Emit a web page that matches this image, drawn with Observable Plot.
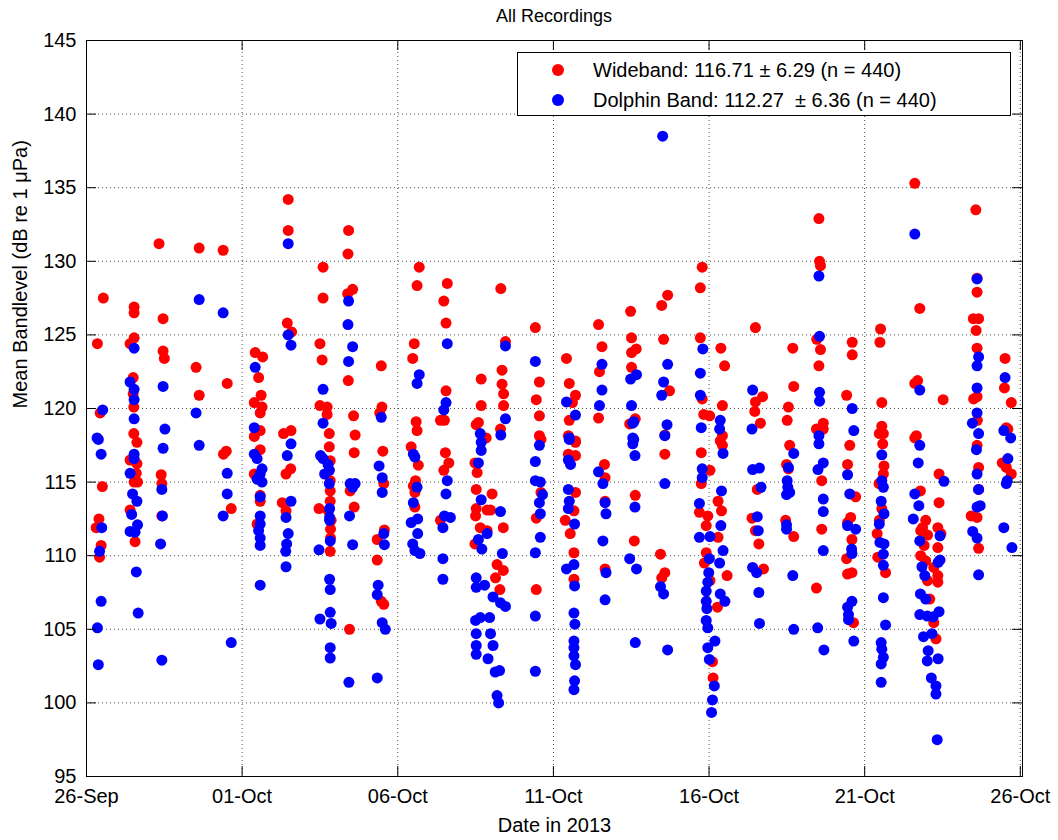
<!DOCTYPE html>
<html>
<head>
<meta charset="utf-8">
<script src="https://cdn.jsdelivr.net/npm/d3@7"></script>
<script src="https://cdn.jsdelivr.net/npm/@observablehq/plot@0.6"></script>
<style>
  body { margin: 0; background: #fff; font-family: "Liberation Sans", Arial, Helvetica, sans-serif; }
  #wrap { position: relative; width: 1058px; height: 840px; }
  #title { position: absolute; top: 6px; left: 86px; width: 936px; text-align: center; font-size: 18px; color: #000; }
  #legend { position: absolute; left: 517px; top: 52px; width: 494px; height: 64px; border: 1px solid #000; background: #fff; box-sizing: border-box; }
  .lrow { position: absolute; left: 0; height: 30px; line-height: 30px; font-size: 20px; white-space: pre; color: #000; }
  .lmark { position: absolute; left: 34px; top: 9px; width: 12px; height: 12px; border-radius: 50%; }
  .ltext { position: absolute; left: 75px; top: 0; }
</style>
</head>
<body>
<div id="wrap">
  <div id="chart"></div>
  <div id="title"></div>
  <div id="legend"></div>
</div>
<script>
// ---- data (day offset from 26-Sep-2013 00:00, mean bandlevel dB) ----
const wideband = [
[0.54,127.5],[0.35,124.4],[0.44,119.7],[0.51,114.7],[0.40,112.5],[0.31,111.9],[0.47,110.7],[0.42,109.9],
[1.53,126.9],[1.53,126.5],[1.53,124.8],[1.40,124.4],[1.50,122.1],[1.50,121.0],[1.52,120.1],[1.52,118.3],[1.62,117.7],[1.40,116.5],[1.62,116.25],[1.60,115.6],[1.53,115.0],[1.64,115.0],[1.40,113.1],[1.56,110.95],
[2.33,131.2],[2.46,126.1],[2.46,123.9],[2.50,123.4],[2.40,115.5],[2.42,114.9],[2.42,112.7],
[3.62,130.9],[3.52,122.8],[3.62,120.9],
[4.39,130.75],[4.52,121.7],[4.40,116.9],[4.49,117.1],[4.65,113.2],
[5.42,123.8],[5.66,123.5],[5.53,122.1],[5.61,120.9],[5.39,120.4],[5.64,120.1],[5.58,119.7],[5.58,118.5],[5.39,118.1],[5.58,117.2],[5.39,115.55],[5.58,114.1],[5.58,113.7],[5.48,112.15],
[6.48,134.2],[6.48,132.1],[6.45,125.8],[6.59,125.2],[6.33,118.3],[6.57,118.5],[6.56,115.9],[6.41,115.55],[6.29,113.6],[6.41,113.05],
[7.60,129.6],[7.60,127.5],[7.50,124.4],[7.57,123.3],[7.50,120.2],[7.73,120.1],[7.73,119.6],[7.80,118.3],[7.80,117.4],[7.83,116.45],[7.80,115.8],[7.83,115.1],[7.83,114.4],[7.83,113.7],[7.77,113.05],[7.86,112.4],[7.84,111.8],[7.84,111.2],[7.83,110.3],[7.47,113.2],
[8.42,132.1],[8.40,130.5],[8.55,128.1],[8.39,127.8],[8.41,121.9],[8.58,119.5],[8.63,118.2],[8.60,117.0],[8.47,114.4],[8.60,113.3],[8.45,105.0],
[9.47,122.9],[9.49,120.1],[9.42,119.7],[9.52,117.1],[9.55,114.9],[9.57,111.75],[9.34,111.1],[9.34,109.7],[9.55,106.7],[9.47,106.9],
[10.69,129.6],[10.62,128.35],[10.53,124.4],[10.48,123.4],[10.59,119.1],[10.62,118.5],[10.43,117.4],[10.66,116.15],[10.50,114.75],[10.57,115.1],[10.55,114.3],[10.55,113.3],
[11.59,128.5],[11.48,127.3],[11.55,125.8],[11.55,121.2],[11.37,119.2],[11.50,119.2],[11.53,117.0],[11.64,116.3],[11.48,115.8],[11.37,112.4],
[12.68,122.0],[12.68,120.2],[12.59,119.05],[12.84,118.0],[12.52,118.9],[12.48,116.3],[12.55,115.65],[12.52,114.5],[13.03,114.2],[12.52,113.2],[12.50,112.7],[12.98,113.1],[12.87,113.1],[12.65,111.9],[12.87,111.7],[13.39,111.9],[12.48,110.8],[13.19,109.4],[13.39,109.0],[13.14,108.5],[13.28,107.7],[13.31,128.15],[13.46,124.55],[13.35,122.6],[13.35,121.65],[13.40,121.0],[13.40,120.2],[13.30,118.6],
[14.42,125.5],[14.55,121.8],[14.45,120.6],[14.55,119.5],[14.55,118.15],[14.60,117.9],[14.60,114.3],[14.45,112.55],[14.45,107.7],
[15.42,123.4],[15.51,121.7],[15.71,120.9],[15.61,120.4],[15.51,119.2],[15.48,118.15],[15.71,117.8],[15.71,117.7],[15.48,116.9],[15.71,116.8],[15.71,114.3],[15.66,113.05],[15.38,112.4],[15.54,111.5],[15.66,110.2],[15.66,108.4],
[16.45,125.7],[16.56,124.2],[16.48,122.5],[16.45,119.35],[16.64,116.2],[16.66,115.3],[16.66,113.7],[16.66,109.1],
[17.48,126.6],[17.51,124.8],[17.51,123.8],[17.66,124.05],[17.51,122.8],[17.63,119.3],[17.45,118.95],[17.63,114.1],[17.60,111.0],
[18.67,127.7],[18.48,127.0],[18.54,124.7],[18.73,121.2],[18.58,118.2],[18.58,116.9],[18.44,110.1],[18.58,108.85],[18.48,108.5],
[19.78,129.6],[19.72,128.2],[19.72,124.8],[19.78,120.65],[19.83,119.6],[20.02,119.5],[19.75,117.0],[20.03,115.8],[19.75,114.9],[19.69,112.95],[19.96,112.7],[19.91,112.05],[19.91,110.2],[19.85,109.5],[20.03,108.3],[20.11,102.8],[20.13,101.7],
[20.38,124.1],[20.50,122.9],[20.43,120.2],[20.43,118.15],[20.36,117.8],[20.43,117.5],[20.29,113.7],[20.40,113.05],[20.29,111.25],[20.58,108.65],[20.27,106.5],
[21.49,125.5],[21.72,120.8],[21.49,120.45],[21.47,119.8],[21.65,119.0],[21.55,114.5],[21.38,112.55],[21.49,111.7],[21.60,110.8],[21.75,109.1],
[22.69,124.1],[22.72,121.5],[22.55,120.1],[22.51,119.2],[22.59,117.5],[22.49,116.2],[22.55,115.9],[22.46,112.4],[22.72,111.3],
[23.53,132.9],[23.55,130.0],[23.58,129.7],[23.46,124.7],[23.58,124.0],[23.53,122.9],[23.67,119.0],[23.45,118.6],[23.67,118.6],[23.62,115.1],[23.62,111.8],[23.45,107.8],
[24.60,124.5],[24.60,123.65],[24.42,120.9],[24.52,117.5],[24.45,116.2],[24.71,114.0],[24.55,112.6],[24.45,112.25],[24.59,111.1],[24.42,109.8],[24.45,108.75],[24.59,108.85],[24.64,105.45],
[25.51,125.4],[25.49,124.5],[25.55,120.4],[25.55,118.8],[25.47,118.3],[25.60,118.3],[25.58,117.6],[25.62,116.1],[25.60,115.55],[25.51,114.9],[25.46,114.9],[25.55,113.2],[25.47,112.4],[25.40,111.5],[25.42,109.9],[25.67,108.85],
[26.61,135.3],[26.77,126.8],[26.70,121.9],[26.61,121.7],[26.66,118.15],[26.61,118.0],[26.79,114.4],[26.96,112.4],[26.86,111.9],[26.80,111.7],[27.02,111.4],[27.35,111.9],[27.45,111.5],[27.35,110.55],[27.39,115.55],[27.39,113.6],[26.91,110.7],[26.80,110.0],[26.96,109.65],[27.22,109.2],[27.35,108.65],[27.35,108.2],[27.02,108.3],[27.09,107.05],[27.22,105.45],[27.29,104.35],[27.52,120.6],
[28.57,133.5],[28.61,128.85],[28.61,127.9],[28.49,126.1],[28.66,126.1],[28.58,125.3],[28.61,124.1],[28.61,120.8],[28.50,120.65],[28.62,119.2],[28.61,117.5],[28.66,116.0],[28.66,114.5],[28.42,112.7],[28.61,112.6],[28.66,110.5],
[29.51,123.4],[29.49,121.4],[29.71,120.4],[29.60,118.6],[29.55,118.7],[29.42,116.3],[29.55,116.0],[29.71,115.55]
];
const dolphin = [
[0.52,119.9],[0.34,118.0],[0.38,117.9],[0.47,116.9],[0.49,111.9],[0.42,110.3],[0.47,106.9],[0.35,105.1],[0.38,102.6],
[1.53,124.1],[1.40,121.8],[1.53,121.3],[1.53,120.6],[1.53,119.3],[1.53,116.9],[1.53,116.6],[1.40,115.6],[1.48,114.2],[1.62,113.7],[1.45,112.8],[1.64,112.1],[1.40,111.65],[1.56,111.6],[1.60,108.9],[1.66,106.1],
[2.46,121.5],[2.52,118.6],[2.46,117.3],[2.42,114.5],[2.44,112.7],[2.38,110.8],[2.42,102.9],
[3.62,127.4],[3.52,119.7],[3.62,117.5],
[4.39,126.5],[4.52,115.6],[4.52,114.2],[4.39,112.7],[4.65,104.1],
[5.42,122.8],[5.39,118.7],[5.39,116.9],[5.48,116.6],[5.64,115.9],[5.58,115.55],[5.64,115.0],[5.48,115.2],[5.58,114.0],[5.58,112.7],[5.58,112.15],[5.53,111.7],[5.58,111.2],[5.58,110.7],[5.58,108.0],
[6.48,131.2],[6.48,125.0],[6.57,124.3],[6.57,117.6],[6.45,116.8],[6.57,113.7],[6.41,112.6],[6.48,111.5],[6.43,110.8],[6.40,110.3],[6.41,109.25],
[7.60,121.3],[7.60,119.0],[7.52,116.8],[7.60,116.6],[7.76,116.2],[7.80,115.8],[7.65,115.55],[7.80,114.9],[7.81,113.2],[7.81,112.6],[7.81,112.4],[7.83,111.0],[7.47,110.4],[7.81,108.4],[7.83,107.7],[7.83,106.15],[7.50,105.7],[7.86,105.4],[7.83,103.75],[7.83,103.05],
[8.42,127.3],[8.40,125.7],[8.55,124.2],[8.42,123.2],[8.47,114.9],[8.63,114.9],[8.55,114.65],[8.45,112.7],[8.55,110.75],[8.43,101.4],
[9.47,119.4],[9.40,116.1],[9.50,115.3],[9.50,114.3],[9.55,111.5],[9.57,110.75],[9.37,108.0],[9.34,107.35],[9.50,105.45],[9.60,105.0],[9.34,101.7],
[10.69,122.3],[10.62,121.7],[10.50,116.9],[10.55,116.7],[10.62,114.65],[10.50,113.6],[10.43,112.25],[10.64,112.5],[10.64,111.5],[10.48,110.8],[10.55,110.35],[10.71,110.15],
[11.59,124.4],[11.55,120.4],[11.48,119.9],[11.59,115.1],[11.55,114.2],[11.50,112.7],[11.69,112.6],[11.45,111.9],[11.45,109.8],[11.45,108.4],
[12.65,118.3],[12.68,117.7],[12.68,117.15],[12.59,116.3],[12.68,113.8],[13.30,113.0],[12.87,111.5],[12.59,111.1],[12.70,110.45],[13.36,110.15],[12.52,108.5],[12.52,107.85],[12.79,108.0],[13.06,107.2],[13.30,106.8],[13.46,106.55],[12.50,105.6],[12.65,105.8],[12.95,105.8],[12.52,104.7],[12.98,104.7],[12.52,103.9],[13.06,103.9],[12.52,103.3],[12.90,103.0],[13.13,102.1],[13.27,102.2],[13.19,100.5],[13.24,100.0],[13.46,124.25],[13.46,119.3],[13.31,118.2],
[14.42,123.2],[14.55,117.5],[14.42,116.4],[14.42,115.1],[14.58,115.0],[14.65,114.15],[14.55,113.6],[14.58,112.85],[14.58,111.25],[14.42,110.2],[14.42,105.9],[14.42,102.15],
[15.42,120.45],[15.71,119.55],[15.51,118.0],[15.51,117.9],[15.48,116.5],[15.55,116.2],[15.48,114.5],[15.51,113.7],[15.48,113.2],[15.68,112.15],[15.66,109.4],[15.42,109.1],[15.68,107.95],[15.66,106.1],[15.69,105.35],[15.66,104.2],[15.66,103.75],[15.66,103.2],[15.71,102.6],[15.68,101.5],[15.66,100.9],
[16.56,123.0],[16.56,121.25],[16.48,120.2],[16.45,115.7],[16.59,114.9],[16.66,113.6],[16.69,112.85],[16.59,111.0],[16.69,108.85],[16.66,107.0],
[17.48,122.0],[17.67,122.3],[17.51,120.2],[17.58,119.1],[17.55,119.0],[17.55,118.0],[17.58,117.9],[17.55,117.6],[17.62,116.8],[17.62,113.3],[17.45,109.8],[17.67,109.1],[17.63,104.1],
[18.51,138.5],[18.67,123.0],[18.54,121.8],[18.48,120.9],[18.65,118.9],[18.58,118.15],[18.58,114.9],[18.44,107.9],[18.54,107.4],[18.67,103.6],
[19.80,124.05],[19.72,122.4],[19.72,120.9],[19.75,118.7],[19.78,115.9],[19.78,115.3],[19.69,113.55],[19.69,111.25],[20.03,111.3],[20.01,109.8],[19.99,108.85],[19.96,108.2],[19.91,107.6],[19.91,106.9],[19.93,106.4],[19.91,105.6],[19.96,105.1],[19.96,103.75],[20.01,102.95],[20.19,104.2],[20.17,101.15],[20.11,100.2],[20.08,99.35],
[20.36,119.2],[20.34,118.6],[20.45,116.95],[20.40,114.4],[20.38,112.05],[20.45,110.35],[20.34,109.5],[20.36,107.4],[20.51,106.9],
[21.40,121.25],[21.38,118.6],[21.40,115.85],[21.62,115.95],[21.67,114.65],[21.55,112.65],[21.58,111.7],[21.40,109.2],[21.53,108.85],[21.60,107.5],[21.62,105.4],
[22.72,116.95],[22.55,116.0],[22.51,115.1],[22.53,114.65],[22.59,114.3],[22.49,114.15],[22.49,112.1],[22.49,111.8],[22.69,108.65],[22.72,105.0],
[23.53,129.0],[23.55,124.9],[23.55,121.1],[23.55,120.5],[23.53,118.15],[23.53,117.6],[23.67,116.3],[23.50,115.85],[23.67,113.85],[23.67,113.0],[23.67,110.35],[23.49,105.1],[23.69,103.6],
[24.60,120.0],[24.65,118.5],[24.45,115.5],[24.52,114.2],[24.45,112.05],[24.71,111.8],[24.58,110.45],[24.59,110.15],[24.59,106.9],[24.45,106.5],[24.48,106.0],[24.48,105.65],[24.65,104.2],
[25.55,116.85],[25.55,115.1],[25.60,114.65],[25.53,113.7],[25.62,112.85],[25.47,112.15],[25.49,110.9],[25.62,110.8],[25.60,110.1],[25.60,109.35],[25.60,107.15],[25.67,105.3],[25.53,104.1],[25.55,103.65],[25.60,103.1],[25.53,102.65],[25.53,101.4],
[26.61,131.85],[26.77,121.25],[26.77,117.5],[26.72,116.3],[26.61,114.2],[26.74,113.4],[26.56,112.5],[27.55,115.05],[27.42,111.35],[26.77,111.0],[27.42,109.7],[27.36,109.55],[26.84,109.25],[26.93,108.65],[26.79,107.4],[26.96,107.05],[26.77,106.0],[27.01,105.9],[27.39,106.2],[27.20,105.85],[26.89,104.5],[27.16,104.7],[27.04,103.55],[27.01,102.85],[27.36,103.0],[27.14,101.7],[27.29,101.15],[27.29,100.6],[27.33,97.5],
[28.61,128.8],[28.66,123.5],[28.61,122.9],[28.61,121.4],[28.61,119.7],[28.46,119.0],[28.66,118.3],[28.59,117.2],[28.61,115.55],[28.66,114.5],[28.61,113.3],[28.71,113.4],[28.47,111.65],[28.61,111.2],[28.66,108.7],
[29.51,122.1],[29.47,118.5],[29.69,118.0],[29.60,116.6],[29.58,115.1],[29.55,114.9],[29.47,111.9],[29.73,110.55]
];
const seriesNames = ["Wideband", "Dolphin Band"];
const seriesColors = ["#ff0000", "#0000ff"];
const seriesMeans = ["116.71", "112.27"];
const seriesSDs = ["6.29", "6.36"];
const seriesN = [440, 440];
const xTickDays = [0, 5, 10, 15, 20, 25, 30];
const yTicks = [95, 100, 105, 110, 115, 120, 125, 130, 135, 140, 145];
const xDomainDays = [0, 30.07];
const titleText = "All Recordings";
const xLabel = "Date in 2013";
const yLabel = "Mean Bandlevel (dB re 1 \u03BCPa)";

// ---- build ----
const start = Date.UTC(2013, 8, 26);
const toDate = d => new Date(start + d * 864e5);
const xTicks = xTickDays.map(toDate);
const xDomain = xDomainDays.map(toDate);
const fmt = d3.utcFormat("%d-%b");
const tickLenDays = 0.32, tickLenDb = 0.68;
const gridStyle = {stroke: "#000", strokeOpacity: 0.7, strokeDasharray: "1,3", strokeWidth: 1};

const chart = Plot.plot({
  width: 1058, height: 840,
  marginTop: 40, marginBottom: 64, marginLeft: 86, marginRight: 36,
  style: {fontFamily: "'Liberation Sans', Arial, Helvetica, sans-serif", fontSize: "20px", background: "#fff", color: "#000"},
  x: {type: "utc", domain: xDomain},
  y: {domain: [95, 145]},
  marks: [
    Plot.gridX(xTicks, gridStyle),
    Plot.gridY(yTicks, gridStyle),
    Plot.dot(wideband, {x: d => toDate(d[0]), y: d => d[1], r: 5.5, fill: seriesColors[0]}),
    Plot.dot(dolphin, {x: d => toDate(d[0]), y: d => d[1], r: 5.5, fill: seriesColors[1]}),
    // inward tick marks on all four sides
    Plot.ruleY(yTicks, {y: d => d, x1: () => xDomain[0], x2: () => toDate(xDomainDays[0] + tickLenDays), stroke: "#000"}),
    Plot.ruleY(yTicks, {y: d => d, x1: () => toDate(xDomainDays[1] - tickLenDays), x2: () => xDomain[1], stroke: "#000"}),
    Plot.ruleX(xTicks, {x: d => d, y1: 95, y2: 95 + tickLenDb, stroke: "#000"}),
    Plot.ruleX(xTicks, {x: d => d, y1: 145 - tickLenDb, y2: 145, stroke: "#000"}),
    Plot.frame({stroke: "#000"}),
    Plot.axisX(xTicks, {tickSize: 0, tickPadding: 12, tickFormat: fmt, label: null, fontSize: 20}),
    Plot.axisY(yTicks, {tickSize: 0, tickPadding: 10, label: null, fontSize: 20}),
    Plot.text([yLabel], {frameAnchor: "left", dx: -66, rotate: -90, fontSize: 20, text: d => d}),
    Plot.text([xLabel], {frameAnchor: "bottom", dy: 55, fontSize: 20, text: d => d})
  ]
});
document.getElementById("chart").appendChild(chart);
document.getElementById("title").textContent = titleText;

const legend = document.getElementById("legend");
seriesNames.forEach((name, i) => {
  const row = document.createElement("div");
  row.className = "lrow";
  row.style.top = (2 + i * 30) + "px";
  row.style.width = "100%";
  const mk = document.createElement("div");
  mk.className = "lmark";
  mk.style.background = seriesColors[i];
  const tx = document.createElement("div");
  tx.className = "ltext";
  tx.textContent = `${name}: ${seriesMeans[i]}${i === 1 ? "  " : " "}\u00B1 ${seriesSDs[i]} (n = ${seriesN[i]})`;
  row.appendChild(mk); row.appendChild(tx);
  legend.appendChild(row);
});
</script>
</body>
</html>
